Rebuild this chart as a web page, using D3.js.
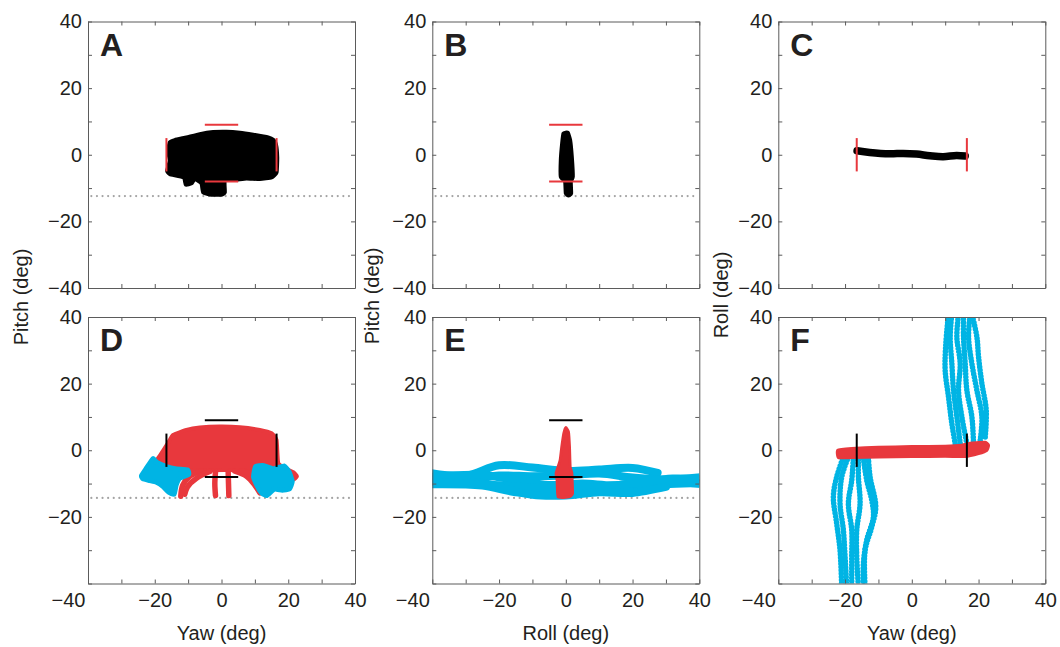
<!doctype html>
<html>
  <head>
    <meta charset="utf-8"/>
    <title>Head orientation panels</title>
    <style>
      body, html {
        margin: 0;
        padding: 0;
        background: white;
      }
      svg text {
        font-family: "Liberation Sans", Arial, Helvetica, sans-serif;
        fill: #231f20;
      }
      .tick text { font-size: 20px; }
      .axis path, .axis line { stroke: #5b5b5b; }
    </style>
    <script src="https://d3js.org/d3.v7.min.js"></script>
  </head>
  <body>
    <svg width="1060" height="647"></svg>
    <script>
      // ---- data (degrees) ----
      var tickValues = [-40, -30, -20, -10, 0, 10, 20, 30, 40];
      var letters = ["A", "B", "C", "D", "E", "F"];
      var xTitles = ["Yaw (deg)", "Roll (deg)", "Yaw (deg)"];
      var yTitles = ["Pitch (deg)", "Pitch (deg)", "Roll (deg)"];

      var thresholdTop = -12.4, thresholdBottom = -14.3;
      var yawLimits = [-16.5, 16.5];     // vertical bars, span -5..5
      var pitchLimits = [9, -8];         // horizontal bars, span -5..5
      var barHalf = 5;

      // A: yaw vs pitch (outline of the black trace cloud)
      var aBlob = [[-15.5,3.7],[-14,4.4],[-10.5,5.2],[-6.5,6.2],[-2.5,6.8],[1.5,6.9],[5.5,6.6],[9.5,6.0],
        [14,5.2],[15.5,4.5],[16.3,3.2],[16.7,-0.8],[16.5,-5.3],[15,-6.8],[11.5,-7.3],[7.5,-7.1],[4.5,-7.5],
        [1,-7.8],[1,-11.3],[0,-12],[-3,-12],[-5.5,-11.3],[-6,-8.6],[-8,-7.3],[-9,-8.6],[-10.7,-9],
        [-11.3,-6.8],[-15.5,-5.8],[-16.3,-4.8],[-15.5,-1.8],[-16,1.2]];
      // B: roll vs pitch
      var bBlob = [[-0.7,6.4],[0.6,6.6],[1.3,4.4],[1.8,-0.6],[2.1,-6.6],[1.5,-8.1],[1.6,-11.6],[0.8,-12.2],
        [0,-11.6],[-0.2,-8.1],[-1.5,-6.6],[-1.5,-1.6],[-1.1,3.4]];
      // C: yaw vs roll
      var cLine = [[-16.4,1.2],[-12.6,0.7],[-6.6,0.3],[-2.6,0.4],[1.4,0.2],[5.4,-0.3],[9.4,-0.6],[13.4,-0.2],[16,-0.4]];

      // D: yaw vs pitch, red body + legs, cyan clusters
      var dRed = [[-16,2.2],[-14.5,4.6],[-10.5,6.1],[-6.5,6.8],[-0.5,7.1],[5.5,6.9],[11.5,6.1],[15,5.1],
        [16.5,3.1],[17,-3.9],[19.5,-5.6],[21.5,-6.6],[22.6,-7.8],[21.5,-8.8],[17,-8.3],[12,-6.8],[5,-6],
        [-5,-6],[-12,-6.3],[-17,-7.3],[-20.5,-6.8],[-20,-4],[-18.4,-1.5]];
      var dRedLegs = [
        [[-6,-6.2],[-9.5,-7.8],[-11.6,-10.5],[-12.2,-13.8]],
        [[-3.5,-6.4],[-7.5,-8.4],[-10.2,-11],[-11,-13.2]],
        [[-1.8,-6.5],[-2,-10],[-1.8,-13.6]],
        [[2,-6.5],[2.1,-10],[2.2,-13.6]],
        [[4,-6.3],[7.5,-7.8],[10,-10.5],[11.5,-12.8]],
        [[6,-6.2],[9.5,-7.5],[12,-9.5]]
      ];
      var dCyanLeft = [[-24,-7.7],[-22.5,-5.4],[-20.5,-2.5],[-19.5,-3.6],[-16.5,-4.9],[-13.5,-5.6],[-10.2,-5.9],
        [-9.8,-7.2],[-12.5,-8.4],[-13.6,-10.5],[-14.2,-13.2],[-15.8,-12.6],[-17.5,-10.9],[-19.5,-9.6],
        [-21.5,-9.1],[-23.5,-8.6]];
      var dCyanRight = [[10.2,-4.9],[12.5,-4.6],[15.5,-5.6],[18.8,-4.7],[20.3,-6.6],[21.2,-9.4],[20.4,-11.6],
        [18.2,-12],[15.8,-11.7],[13.6,-13.6],[12,-12.8],[10.8,-10.9],[9.6,-8]];

      // E: roll vs pitch
      var eCyan = [
        [[-41,-6.8],[-30,-7.6],[-20,-4.5],[-10,-5.2],[0,-6.2],[10,-5.8],[20,-5.3],[27.5,-6.8]],
        [[-41,-8.6],[-30,-9.2],[-20,-7.6],[-10,-7.8],[0,-7.6],[10,-7],[20,-8.2],[30,-8.8],[41,-8]],
        [[-41,-10.2],[-25,-10.6],[-15,-12.6],[-5,-13],[5,-12.5],[15,-12],[25,-10.5],[41,-9.8]],
        [[-41,-8],[-25,-7.4],[-15,-9],[-5,-10.4],[5,-10],[15,-10.5],[25,-9],[41,-10.2]],
        [[-41,-9.5],[-30,-10],[-20,-10.5],[-10,-11.2],[0,-11.5],[10,-11],[20,-10],[32,-8.5],[41,-8.8]],
        [[-20,-11],[-10,-13.4],[0,-13.6],[10,-12.6],[20,-12.8],[30,-11]]
      ];
      var eRed = [[0,6.8],[0.8,5.5],[1.1,1],[1.3,-5],[1.8,-6.9],[2,-13],[1,-14],[-2.3,-14],[-2.6,-9],
        [-2.9,-6.9],[-1.7,-3],[-1.2,1],[-0.6,5]];

      // F: yaw vs roll
      var fRed = [[-22.2,0],[-18,0.5],[-10,0.9],[0,1.1],[10,1.2],[15,1.5],[18,2.2],[22,2.4],[23,1.5],
        [22.5,0],[20,-1],[16,-1.9],[10,-1.8],[0,-1.9],[-10,-2],[-18,-2.2],[-22,-2.2]];
      var fCyanUp = [
        [[13,2],[12,8],[11,16],[10,24],[10.2,32],[11,41]],
        [[14.5,2],[13.5,10],[12.5,18],[12,26],[11.5,34],[12,41]],
        [[16.5,2],[15,10],[14,18],[14.5,26],[13.5,34],[14,41]],
        [[18.5,2],[18,10],[16.5,18],[16,26],[15.5,34],[15.5,41]],
        [[20.5,3],[21,10],[19.5,18],[18,26],[17,34],[17.5,41]],
        [[22,4],[22.3,12],[21,20],[20,28],[19.5,34],[18,41]]
      ];
      var fCyanDown = [
        [[-20.5,-2],[-22.5,-8],[-23.5,-14],[-22.5,-22],[-21.5,-30],[-21,-41]],
        [[-19,-2],[-21,-8],[-21.5,-16],[-20.5,-24],[-20,-32],[-19.5,-41]],
        [[-17.5,-2],[-18,-9],[-19,-16],[-18,-24],[-18,-32],[-18,-41]],
        [[-16,-2],[-16,-8],[-15.5,-16],[-16.5,-24],[-16.5,-32],[-16,-41]],
        [[-14.5,-2.5],[-13.5,-9],[-12,-15],[-11.5,-20],[-13.5,-27],[-14.5,-34],[-14.5,-41]],
        [[-13,-2.5],[-12.5,-8],[-10.8,-17],[-12,-23],[-14,-30],[-14,-41]]
      ];

      // ---- layout ----
      var RED = "#e8383d", CYAN = "#00b4e4", BLACK = "#000";
      var W = 267, H = 266.5;
      var colX = [88, 432.3, 778.3];
      var rowY = [21.5, 317];
      var yTitleX = [28, 379, 728];

      var svg = d3.select("svg");
      var fmt = function(d) { return d < 0 ? "\u2212" + Math.abs(d) : String(d); };

      function panel(i) {
        var col = i % 3, row = Math.floor(i / 3);
        var g = svg.append("g").attr("transform", "translate(" + colX[col] + "," + rowY[row] + ")");
        var x = d3.scaleLinear().domain([-40, 40]).range([0, W]);
        var y = d3.scaleLinear().domain([-40, 40]).range([H, 0]);

        svg.append("clipPath").attr("id", "clip" + i)
          .append("rect").attr("width", W).attr("height", H);
        var plot = g.append("g").attr("clip-path", "url(#clip" + i + ")");

        var left = g.append("g").attr("class", "axis")
          .call(d3.axisLeft(y).tickValues(tickValues).tickSizeInner(-4).tickSizeOuter(0).tickPadding(6)
            .tickFormat(function(d) { return d % 20 === 0 ? fmt(d) : ""; }));
        if (row === 1) left.selectAll(".tick text").filter(function(d) { return d === -40; }).remove();
        g.append("g").attr("class", "axis").attr("transform", "translate(" + W + ",0)")
          .call(d3.axisRight(y).tickValues(tickValues).tickSizeInner(-4).tickSizeOuter(0).tickFormat(""));
        g.append("g").attr("class", "axis")
          .call(d3.axisTop(x).tickValues(tickValues).tickSizeInner(-4).tickSizeOuter(0).tickFormat(""));
        var bottom = g.append("g").attr("class", "axis").attr("transform", "translate(0," + H + ")")
          .call(d3.axisBottom(x).tickValues(tickValues).tickSizeInner(-4).tickSizeOuter(0).tickPadding(9)
            .tickFormat(function(d) { return row === 1 && d % 20 === 0 ? fmt(d) : ""; }));
        bottom.selectAll(".tick text").filter(function(d) { return d === -40; })
          .attr("text-anchor", "end").attr("x", -3);
        g.selectAll(".axis .tick text").attr("fill", "#231f20");

        g.append("text").attr("x", 12).attr("y", 34)
          .style("font-size", "32px").style("font-weight", "bold").text(letters[i]);

        if (row === 1) {
          g.append("text").attr("x", W / 2).attr("y", 640 - rowY[1])
            .attr("text-anchor", "middle").style("font-size", "20px").text(xTitles[col]);
        }
        return {g: g, plot: plot, x: x, y: y};
      }

      function shape(p, pts, color, sw) {
        var line = d3.line().x(function(d) { return p.x(d[0]); }).y(function(d) { return p.y(d[1]); })
          .curve(d3.curveCardinalClosed.tension(0.6));
        p.plot.append("path").attr("d", line(pts)).attr("fill", color)
          .attr("stroke", color).attr("stroke-width", sw).attr("stroke-linejoin", "round");
      }
      function strand(p, pts, color, sw, beads) {
        var line = d3.line().x(function(d) { return p.x(d[0]); }).y(function(d) { return p.y(d[1]); })
          .curve(d3.curveCatmullRom);
        var path = p.plot.append("path").attr("d", line(pts)).attr("fill", "none")
          .attr("stroke", color).attr("stroke-width", sw).attr("stroke-linecap", "round")
          .attr("stroke-linejoin", "round");
        if (beads) path.attr("stroke-dasharray", "0," + beads);
      }
      function dotted(p, v) {
        p.plot.append("line").attr("x1", p.x(-39)).attr("x2", p.x(39.5))
          .attr("y1", p.y(v)).attr("y2", p.y(v))
          .attr("stroke", "#a3a3a3").attr("stroke-width", 2.2)
          .attr("stroke-linecap", "round").attr("stroke-dasharray", "0,5.6");
      }
      function hBars(p, color) {
        pitchLimits.forEach(function(v) {
          p.g.append("line").attr("x1", p.x(-barHalf)).attr("x2", p.x(barHalf))
            .attr("y1", p.y(v)).attr("y2", p.y(v)).attr("stroke", color).attr("stroke-width", 2);
        });
      }
      function vBars(p, color) {
        yawLimits.forEach(function(v) {
          p.g.append("line").attr("x1", p.x(v)).attr("x2", p.x(v))
            .attr("y1", p.y(barHalf)).attr("y2", p.y(-barHalf)).attr("stroke", color).attr("stroke-width", 2);
        });
      }

      // A
      var pA = panel(0);
      dotted(pA, thresholdTop);
      shape(pA, aBlob, BLACK, 4);
      hBars(pA, RED); vBars(pA, RED);
      // B
      var pB = panel(1);
      dotted(pB, thresholdTop);
      shape(pB, bBlob, BLACK, 4);
      hBars(pB, RED);
      // C
      var pC = panel(2);
      strand(pC, cLine, BLACK, 7.5);
      vBars(pC, RED);
      // D
      var pD = panel(3);
      dotted(pD, thresholdBottom);
      shape(pD, dRed, RED, 4);
      dRedLegs.forEach(function(s) { strand(pD, s, RED, 5.5); });
      shape(pD, dCyanLeft, CYAN, 5);
      shape(pD, dCyanRight, CYAN, 5);
      hBars(pD, BLACK); vBars(pD, BLACK);
      // E
      var pE = panel(4);
      dotted(pE, thresholdBottom);
      eCyan.forEach(function(s) { strand(pE, s, CYAN, 8); });
      shape(pE, eRed, RED, 3);
      hBars(pE, BLACK);
      // F
      var pF = panel(5);
      fCyanUp.forEach(function(s) { strand(pF, s, CYAN, 5.5, 3.2); });
      fCyanDown.forEach(function(s) { strand(pF, s, CYAN, 5.5, 3.2); });
      shape(pF, fRed, RED, 3);
      vBars(pF, BLACK);

      // y titles
      [[0, 297], [1, 296], [2, 295]].forEach(function(t) {
        svg.append("text")
          .attr("transform", "translate(" + yTitleX[t[0]] + "," + t[1] + ") rotate(-90)")
          .attr("text-anchor", "middle").style("font-size", "20px").text(yTitles[t[0]]);
      });
    </script>
  </body>
</html>
